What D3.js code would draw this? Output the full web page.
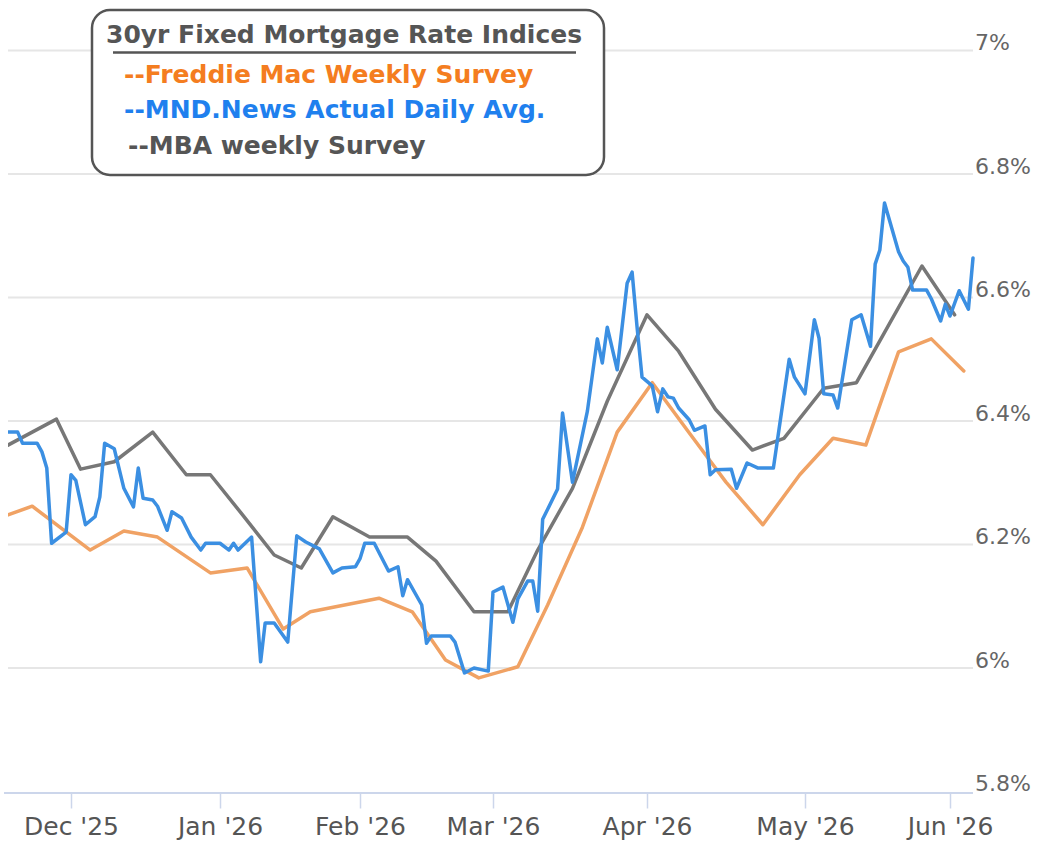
<!DOCTYPE html>
<html><head><meta charset="utf-8">
<script src="https://cdn.jsdelivr.net/npm/d3@7"></script>
<style>
html,body{margin:0;padding:0;background:#fff;}
svg{display:block;}
</style></head><body>
<svg id="chart" width="1039" height="842"></svg>
<script>
// ---------- data ----------
const monthTickDates = ["2025-12-01","2026-01-01","2026-02-01","2026-03-01","2026-04-01","2026-05-01","2026-06-01"];
const monthTickLabels = ["Dec '25","Jan '26","Feb '26","Mar '26","Apr '26","May '26","Jun '26"];
const yTickValues = [5.8, 6.0, 6.2, 6.4, 6.6, 6.8, 7.0];
const yTickLabels = ["5.8%","6%","6.2%","6.4%","6.6%","6.8%","7%"];

const legendTitle = "30yr Fixed Mortgage Rate Indices";
const seriesNames = ["--Freddie Mac Weekly Survey","--MND.News Actual Daily Avg.","--MBA weekly Survey"];

const freddieDates = ["2025-11-18","2025-11-23","2025-12-05","2025-12-12","2025-12-19","2025-12-30","2026-01-07","2026-01-15","2026-01-21","2026-01-30","2026-02-05","2026-02-12","2026-02-19","2026-02-26","2026-03-06","2026-03-12","2026-03-19","2026-03-26","2026-04-02","2026-04-09","2026-04-16","2026-04-23","2026-04-30","2026-05-07","2026-05-14","2026-05-21","2026-05-28","2026-06-04"];
const freddieValues = [6.248,6.262,6.191,6.222,6.212,6.154,6.162,6.063,6.091,6.104,6.113,6.091,6.013,5.984,6.002,6.102,6.228,6.382,6.462,6.381,6.301,6.232,6.313,6.372,6.361,6.512,6.533,6.481];

const mbaDates = ["2025-11-18","2025-11-28","2025-12-03","2025-12-10","2025-12-18","2025-12-25","2025-12-30","2026-01-06","2026-01-13","2026-01-19","2026-01-26","2026-02-03","2026-02-11","2026-02-17","2026-02-25","2026-03-04","2026-03-10","2026-03-17","2026-03-24","2026-04-01","2026-04-07","2026-04-14","2026-04-21","2026-04-27","2026-05-05","2026-05-12","2026-05-19","2026-05-26","2026-06-02"];
const mbaValues = [6.361,6.403,6.322,6.334,6.382,6.313,6.313,6.248,6.183,6.162,6.245,6.212,6.212,6.173,6.091,6.091,6.191,6.291,6.432,6.572,6.513,6.419,6.353,6.372,6.453,6.462,6.557,6.651,6.572];

const mndDates = ["2025-11-18","2025-11-20","2025-11-21","2025-11-24","2025-11-25","2025-11-26","2025-11-27","2025-11-30",
"2025-12-01","2025-12-02","2025-12-04","2025-12-06","2025-12-07","2025-12-08","2025-12-10","2025-12-12","2025-12-14","2025-12-15","2025-12-16","2025-12-18","2025-12-19","2025-12-21","2025-12-22","2025-12-24","2025-12-26","2025-12-28","2025-12-29",
"2026-01-01","2026-01-03","2026-01-04","2026-01-05","2026-01-08","2026-01-10","2026-01-11","2026-01-13","2026-01-16","2026-01-18","2026-01-20","2026-01-23","2026-01-26","2026-01-28","2026-01-31",
"2026-02-01","2026-02-02","2026-02-04","2026-02-07","2026-02-09","2026-02-10","2026-02-11","2026-02-14","2026-02-15","2026-02-16","2026-02-20","2026-02-21","2026-02-23","2026-02-25","2026-02-28",
"2026-03-01","2026-03-03","2026-03-05","2026-03-06","2026-03-08","2026-03-09","2026-03-10","2026-03-11","2026-03-12","2026-03-14","2026-03-15","2026-03-17","2026-03-20","2026-03-22","2026-03-23","2026-03-24","2026-03-26","2026-03-28","2026-03-29","2026-03-30","2026-03-31",
"2026-04-02","2026-04-03","2026-04-04","2026-04-05","2026-04-06","2026-04-07","2026-04-09","2026-04-10","2026-04-12","2026-04-13","2026-04-14","2026-04-17","2026-04-18","2026-04-20","2026-04-22","2026-04-25","2026-04-28","2026-04-29",
"2026-05-01","2026-05-03","2026-05-04","2026-05-05","2026-05-07","2026-05-08","2026-05-11","2026-05-13","2026-05-15","2026-05-16","2026-05-17","2026-05-18","2026-05-21","2026-05-22","2026-05-23","2026-05-24","2026-05-27","2026-05-28","2026-05-30","2026-05-31",
"2026-06-01","2026-06-03","2026-06-05","2026-06-06"];
const mndValues = [6.382,6.382,6.364,6.364,6.350,6.324,6.202,6.220,
6.313,6.304,6.232,6.245,6.277,6.364,6.355,6.291,6.261,6.324,6.275,6.272,6.262,6.223,6.253,6.243,6.212,6.191,6.202,
6.202,6.191,6.202,6.191,6.212,6.010,6.073,6.073,6.042,6.214,6.204,6.193,6.154,6.162,6.164,
6.177,6.202,6.202,6.157,6.164,6.117,6.143,6.102,6.040,6.052,6.052,6.042,5.992,6.000,5.995,
6.123,6.131,6.074,6.112,6.141,6.141,6.092,6.241,6.257,6.290,6.413,6.301,6.416,6.533,6.494,6.552,6.483,6.623,6.641,6.552,6.471,
6.457,6.415,6.452,6.439,6.437,6.421,6.402,6.385,6.392,6.313,6.321,6.322,6.291,6.332,6.324,6.324,6.500,6.471,
6.444,6.564,6.534,6.444,6.442,6.421,6.564,6.572,6.521,6.654,6.677,6.753,6.674,6.659,6.649,6.612,6.612,6.598,6.562,6.589,
6.570,6.611,6.581,6.664];

// ---------- layout ----------
const W = 1039, H = 842;
const plotLeft = 8, plotRight = 973, plotTop = 50.5, plotBottom = 791.5;
const parse = d3.timeParse("%Y-%m-%d");

const svg = d3.select("#chart");
svg.append("rect").attr("width", W).attr("height", H).attr("fill", "#fff");

// piecewise time scale anchored on the month ticks
const anchorDates = ["2025-11-18"].concat(monthTickDates, ["2026-06-06"]).map(parse);
const anchorPx = [plotLeft, 71, 220, 360, 493, 647, 805, 950, plotRight];
const x = d3.scaleTime().domain(anchorDates).range(anchorPx);
const y = d3.scaleLinear().domain([5.8, 7.0]).range([plotBottom, plotTop]);

const FONT = "'DejaVu Sans', Verdana, sans-serif";

// grid lines
svg.append("g").selectAll("line").data(yTickValues.slice(1)).join("line")
  .attr("x1", plotLeft).attr("x2", plotRight)
  .attr("y1", d => y(d)).attr("y2", d => y(d))
  .attr("stroke", "#e6e6e6").attr("stroke-width", 2);

// y axis labels (right)
const yAxis = d3.axisRight(y).tickValues(yTickValues)
  .tickFormat((d, i) => yTickLabels[i]).tickSize(0).tickPadding(0);
const gy = svg.append("g").attr("transform", `translate(${plotRight + 2},0)`).call(yAxis);
gy.select(".domain").remove();
gy.selectAll("text").attr("dy", "-1").attr("font-family", FONT).attr("font-size", 22)
  .attr("fill", "#666").attr("text-anchor", "start");

// x axis
const xAxis = d3.axisBottom(x).tickValues(monthTickDates.map(parse))
  .tickFormat((d, i) => monthTickLabels[i]).tickSizeOuter(0).tickSizeInner(16).tickPadding(9);
const gx = svg.append("g").attr("transform", `translate(0,${plotBottom + 1})`).call(xAxis);
gx.select(".domain").attr("stroke", "#ccd6eb").attr("stroke-width", 2)
  .attr("d", `M${plotLeft - 4},0.5H${plotRight}`);
gx.selectAll(".tick line").attr("stroke", "#ccd6eb").attr("stroke-width", 1.5);
gx.selectAll(".tick text").attr("font-family", FONT).attr("font-size", 25).attr("fill", "#555");

// clip
svg.append("clipPath").attr("id", "plotclip").append("rect")
  .attr("x", plotLeft).attr("y", 0).attr("width", plotRight - plotLeft + 2).attr("height", H);

const line = d3.line().x(d => x(d[0])).y(d => y(d[1]));
const toPts = (ds, vs) => ds.map((d, i) => [parse(d), vs[i]]);

const lines = svg.append("g").attr("clip-path", "url(#plotclip)")
  .attr("fill", "none").attr("stroke-width", 3.5).attr("stroke-linejoin", "round").attr("stroke-linecap", "round");
lines.append("path").attr("d", line(toPts(freddieDates, freddieValues))).attr("stroke", "#f0a264");
lines.append("path").attr("d", line(toPts(mbaDates, mbaValues))).attr("stroke", "#777");
lines.append("path").attr("d", line(toPts(mndDates, mndValues))).attr("stroke", "#3b8fe2");

// legend box
const lg = svg.append("g");
lg.append("rect").attr("x", 92).attr("y", 10).attr("width", 512).attr("height", 165).attr("rx", 18)
  .attr("fill", "#fff").attr("stroke", "#555").attr("stroke-width", 2.5);
lg.append("text").attr("x", 106).attr("y", 43).text(legendTitle)
  .attr("font-family", FONT).attr("font-weight", "bold").attr("font-size", 25).attr("fill", "#555");
lg.append("line").attr("x1", 113).attr("x2", 576).attr("y1", 52.5).attr("y2", 52.5)
  .attr("stroke", "#555").attr("stroke-width", 2.5);
const legColors = ["#f47d20", "#1f80ee", "#555"];
const legX = [124, 124, 128];
const legY = [83, 118, 154];
seriesNames.forEach((s, i) => {
  lg.append("text").attr("x", legX[i]).attr("y", legY[i]).text(s)
    .attr("font-family", FONT).attr("font-weight", "bold").attr("font-size", 25).attr("fill", legColors[i]);
});
</script>
</body></html>
